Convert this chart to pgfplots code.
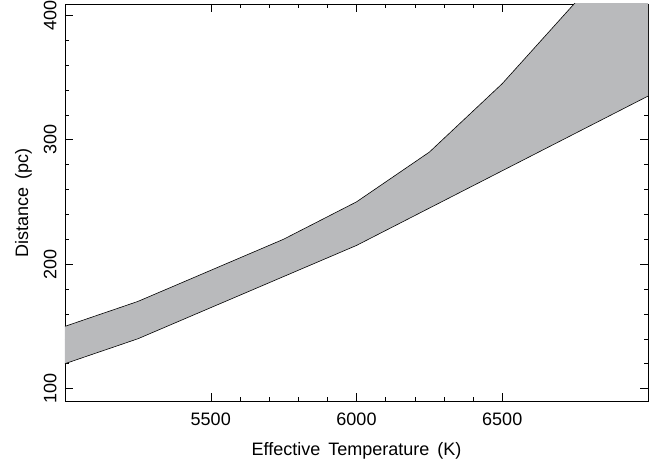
\documentclass[border=0pt]{standalone}
\usepackage{fontspec}
\setmainfont{Liberation Sans}
\usepackage{pgfplots}
\pgfplotsset{compat=1.18}
\usepgfplotslibrary{fillbetween}
\definecolor{bandgray}{RGB}{185,186,188}
\begin{document}
\begin{tikzpicture}[font=\fontsize{18}{21}\selectfont]
\begin{axis}[
  scale only axis,
  width=583pt, height=397pt,
  xmin=5000, xmax=7000, ymin=90, ymax=409,
  xtick={5500,6000,6500},
  ytick={100,200,300,400},
  minor x tick num=4,
  minor y tick num=4,
  tick align=inside,
  major tick length=8pt,
  minor tick length=4pt,
  xticklabel pos=lower, yticklabel pos=left,
  xtick pos=both, ytick pos=both,
  yticklabel style={rotate=90, anchor=south, yshift=5pt, font=\fontsize{18}{21}\selectfont},
  xticklabel style={yshift=-8pt, font=\fontsize{18}{21}\selectfont},
  /pgf/number format/assume math mode=true,
  /pgf/number format/1000 sep={},
  xlabel={Effective\hspace{8pt}Temperature\hspace{8pt}(K)},
  ylabel={Distance\hspace{8pt}(pc)},
  label style={font=\fontsize{18}{21}\selectfont},
  xlabel style={yshift=-10pt},
  ylabel style={yshift=5pt},
  axis line style={black, line width=0.6pt},
  every tick/.style={black, line width=0.5pt},
  clip=true,
]
\addplot[name path=upper, black, line width=0.6pt] coordinates {
  (5000,150) (5250,170) (5500,195) (5750,220) (6000,250) (6250,290) (6500,345) (6750,410) (7000,480)
};
\addplot[name path=lower, black, line width=0.6pt] coordinates {
  (5000,120) (5250,140) (5500,165) (5750,190) (6000,215) (6250,245) (6500,275) (6750,305) (7000,335)
};
\addplot[bandgray] fill between[of=upper and lower];
\end{axis}
\path (current axis.south west) ++(-65pt,-65pt) coordinate (bl);
\path (current axis.north east) ++(16pt,4pt) coordinate (tr);
\pgfresetboundingbox
\useasboundingbox (bl) rectangle (tr);
\end{tikzpicture}
\end{document}
